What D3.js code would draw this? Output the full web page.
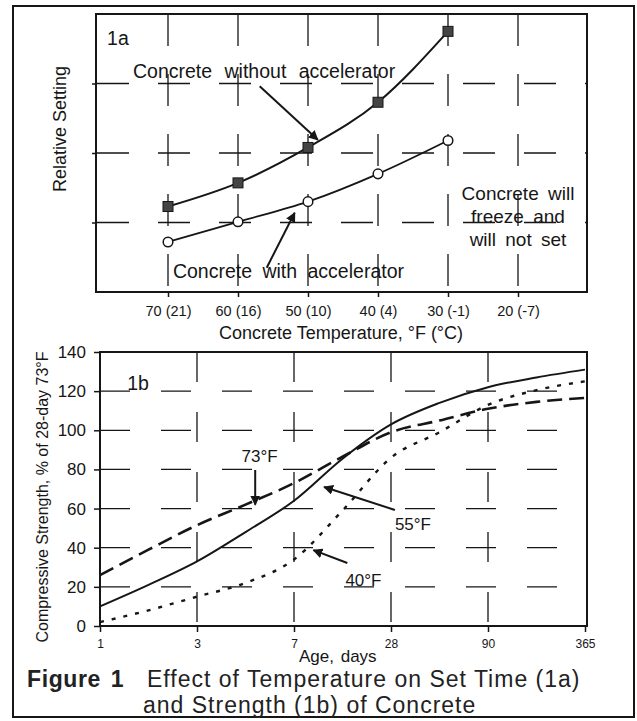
<!DOCTYPE html>
<html><head><meta charset="utf-8">
<script src="https://cdn.jsdelivr.net/npm/d3@7"></script>
<style>
html,body{margin:0;padding:0;background:#fff;}
svg{display:block;font-family:"Liberation Sans",Arial,Helvetica,sans-serif;}
</style></head>
<body>
<svg id="c" width="637" height="721"></svg>
<script>
// ---------- data ----------
const tempLabels = ["70 (21)","60 (16)","50 (10)","40 (4)","30 (-1)","20 (-7)"];
const withoutAccel = [1.23,1.57,2.08,2.73,3.75];
const withAccel    = [0.72,1.01,1.30,1.70,2.18];
const setTicks = [1,2,3];

const ageLabels = ["1","3","7","28","90","365"];
const agePos = [0,0.5,1,1.5,2,2.5,3,3.5,4,4.5,5];
const s73 = [26,39,51.5,62,73,86.5,99,105,111,114.5,116.5];
const s55 = [10,21,33,48,64,85.5,103,114,122,127,131];
const s40 = [2,8,15,22,34,59,86,99,113,120.5,125];
const strengthTicks = [0,20,40,60,80,100,120,140];

const svg = d3.select("#c");
const ink = "#161616";

// outer frame
svg.append("rect").attr("x",13).attr("y",6).attr("width",621).attr("height",711)
  .attr("fill","none").attr("stroke",ink).attr("stroke-width",2);

// arrow marker
svg.append("defs").append("marker").attr("id","ah").attr("viewBox","0 0 10 10")
  .attr("refX",9).attr("refY",5).attr("markerWidth",5).attr("markerHeight",5)
  .attr("orient","auto").attr("markerUnits","strokeWidth")
  .append("path").attr("d","M0,0L10,5L0,10z").attr("fill",ink);

// ================= TOP CHART (1a) =================
const T = {l:96, r:587, t:14, b:292};
const xTp = d3.scalePoint().domain(tempLabels).range([168,518]);
const xTi = d3.scaleLinear().domain([0,5]).range([168,518]);
const yT = d3.scaleLinear().domain([0,4]).range([T.b,T.t]);
const gT = svg.append("g");

// grid
gT.selectAll(".hg").data(setTicks).join("line")
  .attr("x1",T.l+1).attr("x2",T.r).attr("y1",d=>yT(d)).attr("y2",d=>yT(d))
  .attr("stroke",ink).attr("stroke-width",1.3).attr("stroke-dasharray","32,29");
gT.selectAll(".vg").data(tempLabels).join("line")
  .attr("x1",d=>xTp(d)).attr("x2",d=>xTp(d)).attr("y1",T.t).attr("y2",T.b)
  .attr("stroke",ink).attr("stroke-width",1.3).attr("stroke-dasharray","32,28");

// axes (ticks)
gT.append("g").attr("transform",`translate(0,${T.b})`)
  .call(d3.axisBottom(xTp).tickSize(5).tickPadding(9))
  .call(g=>{g.select(".domain").remove();
    g.selectAll("line").attr("stroke",ink).attr("stroke-width",1.5);
    g.selectAll("text").attr("font-size",14.5).attr("fill",ink).attr("font-family","Liberation Sans, Arial, sans-serif");});
gT.append("g").attr("transform",`translate(${T.l},0)`)
  .call(d3.axisLeft(yT).tickValues(setTicks).tickSize(4).tickFormat(""))
  .call(g=>{g.select(".domain").remove(); g.selectAll("line").attr("stroke",ink).attr("stroke-width",1.5);});

// frame
gT.append("rect").attr("x",T.l).attr("y",T.t).attr("width",T.r-T.l).attr("height",T.b-T.t)
  .attr("fill","none").attr("stroke",ink).attr("stroke-width",2);

// curves
const lineT = d3.line().x((d,i)=>xTi(i)).y(d=>yT(d)).curve(d3.curveMonotoneX);
gT.append("path").datum(withoutAccel).attr("d",lineT).attr("fill","none").attr("stroke",ink).attr("stroke-width",2);
gT.append("path").datum(withAccel).attr("d",lineT).attr("fill","none").attr("stroke",ink).attr("stroke-width",1.8);
gT.selectAll(".sq").data(withoutAccel).join("rect")
  .attr("x",(d,i)=>xTi(i)-5).attr("y",d=>yT(d)-5).attr("width",10).attr("height",10)
  .attr("fill","#444").attr("stroke",ink).attr("stroke-width",1);
gT.selectAll(".ci").data(withAccel).join("circle")
  .attr("cx",(d,i)=>xTi(i)).attr("cy",d=>yT(d)).attr("r",4.8)
  .attr("fill","#fff").attr("stroke",ink).attr("stroke-width",1.5);

// annotations
function arrow(g,xs,ys,a,b){
  g.append("line").attr("x1",xs(a[0])).attr("y1",ys(a[1])).attr("x2",xs(b[0])).attr("y2",ys(b[1]))
   .attr("stroke",ink).attr("stroke-width",2).attr("marker-end","url(#ah)");
}
function label(g,txt,x,y,size,opts={}){
  const t=g.append("text").attr("x",x).attr("y",y).attr("font-size",size).attr("fill",ink).text(txt);
  if(opts.anchor) t.attr("text-anchor",opts.anchor);
  if(opts.ws) t.attr("word-spacing",opts.ws);
  if(opts.weight) t.attr("font-weight",opts.weight);
  return t;
}
arrow(gT,xTi,yT,[1.31,2.96],[2.14,2.19]);
arrow(gT,xTi,yT,[1.41,0.35],[1.81,1.14]);
label(gT,"1a",xTi(-0.87),yT(3.55),19.5);
label(gT,"Concrete without accelerator",xTi(-0.5),yT(3.08),19.5,{ws:7});
label(gT,"Concrete with accelerator",xTi(0.07),yT(0.2),19.5,{ws:5});
label(gT,"Concrete will",xTi(5),yT(1.32),19,{anchor:"middle",ws:4});
label(gT,"freeze and",xTi(5),yT(0.99),19,{anchor:"middle",ws:4});
label(gT,"will not set",xTi(5),yT(0.66),19,{anchor:"middle",ws:4});

// axis titles
svg.append("text").attr("transform","translate(66,129) rotate(-90)").attr("text-anchor","middle")
  .attr("font-size",18).attr("fill",ink).text("Relative Setting");
svg.append("text").attr("x",341).attr("y",339).attr("text-anchor","middle")
  .attr("font-size",18).attr("fill",ink).text("Concrete Temperature, °F (°C)");

// ================= BOTTOM CHART (1b) =================
const B = {l:100, r:587, t:352, b:626};
const xB = d3.scaleLinear().domain([0,5]).range([100,585]);
const yB = d3.scaleLinear().domain([0,140]).range([B.b,B.t]);
const gB = svg.append("g");

gB.selectAll(".hg").data(strengthTicks.filter(d=>d>0&&d<140)).join("line")
  .attr("x1",B.l).attr("x2",B.r).attr("y1",d=>yB(d)).attr("y2",d=>yB(d))
  .attr("stroke",ink).attr("stroke-width",1.3).attr("stroke-dasharray","30,31");
gB.selectAll(".vg").data(d3.range(1,5)).join("line")
  .attr("x1",d=>xB(d)).attr("x2",d=>xB(d)).attr("y1",B.t).attr("y2",B.b)
  .attr("stroke",ink).attr("stroke-width",1.3).attr("stroke-dasharray","30,30");

gB.append("g").attr("transform",`translate(${B.l},0)`)
  .call(d3.axisLeft(yB).tickValues(strengthTicks).tickSize(6).tickPadding(8))
  .call(g=>{g.select(".domain").remove();
    g.selectAll("line").attr("stroke",ink).attr("stroke-width",1.5);
    g.selectAll("text").attr("font-size",17).attr("fill",ink).attr("font-family","Liberation Sans, Arial, sans-serif");});
gB.append("g").attr("transform",`translate(0,${B.b})`)
  .call(d3.axisBottom(xB).tickValues(d3.range(0,6)).tickFormat(i=>ageLabels[i]).tickSize(6).tickPadding(7))
  .call(g=>{g.select(".domain").remove();
    g.selectAll("line").attr("stroke",ink).attr("stroke-width",1.5);
    g.selectAll("text").attr("font-size",12).attr("fill",ink).attr("font-family","Liberation Sans, Arial, sans-serif");});

gB.append("rect").attr("x",B.l).attr("y",B.t).attr("width",B.r-B.l).attr("height",B.b-B.t)
  .attr("fill","none").attr("stroke",ink).attr("stroke-width",2);

const lineB = d3.line().x((d,i)=>xB(agePos[i])).y(d=>yB(d)).curve(d3.curveMonotoneX);
gB.append("path").datum(s55).attr("d",lineB).attr("fill","none").attr("stroke",ink).attr("stroke-width",2);
gB.append("path").datum(s73).attr("d",lineB).attr("fill","none").attr("stroke",ink).attr("stroke-width",2.6).attr("stroke-dasharray","15,7");
gB.append("path").datum(s40).attr("d",lineB).attr("fill","none").attr("stroke",ink).attr("stroke-width",2.4).attr("stroke-dasharray","4,8");

arrow(gB,xB,yB,[1.6,79.7],[1.6,62]);
arrow(gB,xB,yB,[3.04,59.3],[2.31,71]);
arrow(gB,xB,yB,[2.55,32.2],[2.2,38.8]);
label(gB,"1b",xB(0.28),yB(120.6),19.5);
label(gB,"73°F",xB(1.46),yB(83.8),17);
label(gB,"55°F",xB(3.04),yB(49),17);
label(gB,"40°F",xB(2.53),yB(20.4),17);

svg.append("text").attr("transform","translate(48,497) rotate(-90)").attr("text-anchor","middle")
  .attr("font-size",16).attr("fill",ink).text("Compressive Strength, % of 28-day 73°F");
svg.append("text").attr("x",299).attr("y",662).attr("font-size",17).attr("word-spacing",2).attr("fill",ink).text("Age, days");

// caption
svg.append("text").attr("x",27).attr("y",687).attr("font-size",23).attr("font-weight","bold").attr("letter-spacing",0.6).attr("word-spacing",3).attr("fill","#222").text("Figure 1");
svg.append("text").attr("x",147).attr("y",687).attr("font-size",23).attr("letter-spacing",1).attr("fill","#222").text("Effect of Temperature on Set Time (1a)");
svg.append("text").attr("x",143).attr("y",713).attr("font-size",23).attr("letter-spacing",1).attr("fill","#222").text("and Strength (1b) of Concrete");
</script>
</body></html>
